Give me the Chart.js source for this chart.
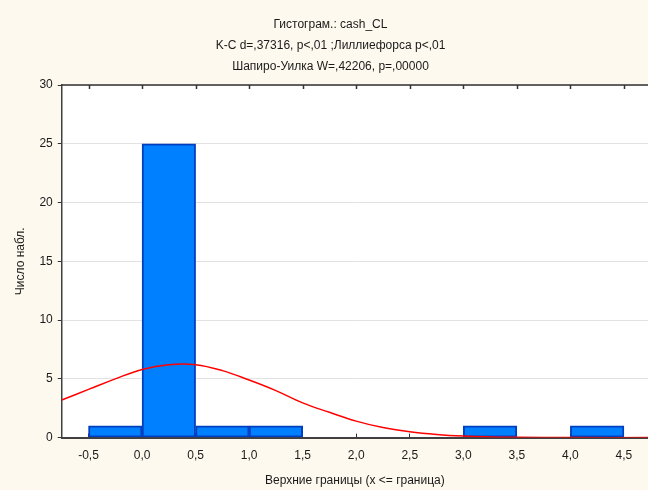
<!DOCTYPE html>
<html>
<head>
<meta charset="utf-8">
<script src="https://cdn.jsdelivr.net/npm/chart.js@4/dist/chart.umd.min.js"></script>
<style>
  html, body { margin: 0; padding: 0; background: #fdf9ee; }
  #wrap { width: 648px; height: 490px; }
</style>
</head>
<body>
<div id="wrap"><canvas id="chart_hist"></canvas></div>
<script>
// histogram bins (centers) and counts, bin width 0,5
const binCenters = [-0.25, 0.25, 0.75, 1.25, 1.75, 2.25, 2.75, 3.25, 3.75, 4.25];
const binCounts  = [1, 25, 1, 1, null, null, null, 1, null, 1];

// fitted normal curve
const curveX = [-0.75, -0.5, -0.25, 0, 0.25, 0.5, 0.75, 1.0, 1.25, 1.5, 1.75, 2.0, 2.25, 2.5, 2.75, 3.0, 3.25, 3.5, 4.0, 4.75];
const curveY = [3.2, 4.1, 5.0, 5.8, 6.2, 6.2, 5.7, 4.9, 4.0, 2.95, 2.15, 1.4, 0.85, 0.5, 0.27, 0.13, 0.06, 0.03, 0, 0];

const xTicks = [-0.5, 0, 0.5, 1, 1.5, 2, 2.5, 3, 3.5, 4, 4.5];
const yTicks = [0, 5, 10, 15, 20, 25, 30];

const titleLines = [
	'Гистограм.: cash_CL',
	'K-C d=,37316, p<,01 ;Лиллиефорса p<,01',
	'Шапиро-Уилка W=,42206, p=,00000'
];

const FONT = "'Liberation Sans', Arial, sans-serif";
Chart.defaults.font.family = FONT;
Chart.defaults.font.size = 12;
Chart.defaults.color = '#1a1a1a';

// white plot area + top frame with inward ticks
const plotFrame = {
	id: 'plotFrame',
	beforeDraw(chart) {
		const a = chart.chartArea;
		const ctx = chart.ctx;
		ctx.save();
		ctx.fillStyle = '#ffffff';
		ctx.fillRect(a.left, a.top, a.right - a.left, a.bottom - a.top);
		ctx.restore();
	},
	afterDraw(chart) {
		const a = chart.chartArea;
		const ctx = chart.ctx;
		const xs = chart.scales.x;
		ctx.save();
		ctx.strokeStyle = '#333333';
		ctx.lineWidth = 1.5;
		ctx.beginPath();
		ctx.moveTo(a.left, a.top);
		ctx.lineTo(a.right, a.top);
		xTicks.forEach(v => {
			const px = Math.round(xs.getPixelForValue(v)) + 0.5;
			ctx.moveTo(px, a.top);
			ctx.lineTo(px, a.top + 4);
		});
		ctx.stroke();
		ctx.restore();
	}
};

const hist = new Chart(document.getElementById('chart_hist'), {
	type: 'bar',
	data: {
		datasets: [{
			type: 'line',
			label: 'Normal',
			data: curveX.map((x, i) => ({x: x, y: curveY[i]})),
			borderColor: '#ff0000',
			borderWidth: 1.5,
			pointRadius: 0,
			tension: 0.4,
			order: 0
		}, {
			type: 'bar',
			label: 'cash_CL',
			data: binCenters.map((x, i) => ({x: x, y: binCounts[i]})),
			backgroundColor: '#0080ff',
			borderColor: '#0040c0',
			borderWidth: 2,
			borderSkipped: false,
			barPercentage: 1,
			categoryPercentage: 1,
			order: 1
		}]
	},
	options: {
		responsive: true,
		maintainAspectRatio: false,
		animation: false,
		layout: { padding: { left: 13, right: 0, top: 0, bottom: 3 } },
		plugins: {
			legend: { display: false },
			tooltip: { enabled: false },
			title: {
				display: true,
				text: titleLines,
				font: { size: 12, weight: 'normal', lineHeight: 1.75 },
				color: '#1a1a1a',
				padding: { top: 14.5, bottom: 7.5 }
			}
		},
		scales: {
			x: {
				type: 'linear',
				offset: false,
				min: -0.75,
				max: 4.725,
				afterBuildTicks: s => { s.ticks = xTicks.map(v => ({value: v})); },
				ticks: {
					padding: 15,
					callback: v => v.toFixed(1).replace('.', ','),
					color: '#1a1a1a'
				},
				grid: { offset: false, drawOnChartArea: false, tickLength: -4, tickColor: '#333333', tickWidth: 1 },
				border: { color: '#404040', width: 2 },
				title: {
					display: true,
					text: 'Верхние границы (x <= граница)',
					font: { lineHeight: 1 },
					padding: { top: -3, bottom: 0 },
					color: '#1a1a1a'
				}
			},
			y: {
				min: 0,
				max: 30,
				afterBuildTicks: s => { s.ticks = yTicks.map(v => ({value: v})); },
				ticks: { padding: 5, color: '#1a1a1a' },
				grid: { color: '#e2e2e2', tickColor: '#333333', tickLength: 4, lineWidth: 1 },
				border: { color: '#404040', width: 1.5 },
				title: {
					display: true,
					text: 'Число набл.',
					padding: { top: 0, bottom: 7 },
					color: '#1a1a1a'
				}
			}
		}
	},
	plugins: [plotFrame]
});
</script>
</body>
</html>
